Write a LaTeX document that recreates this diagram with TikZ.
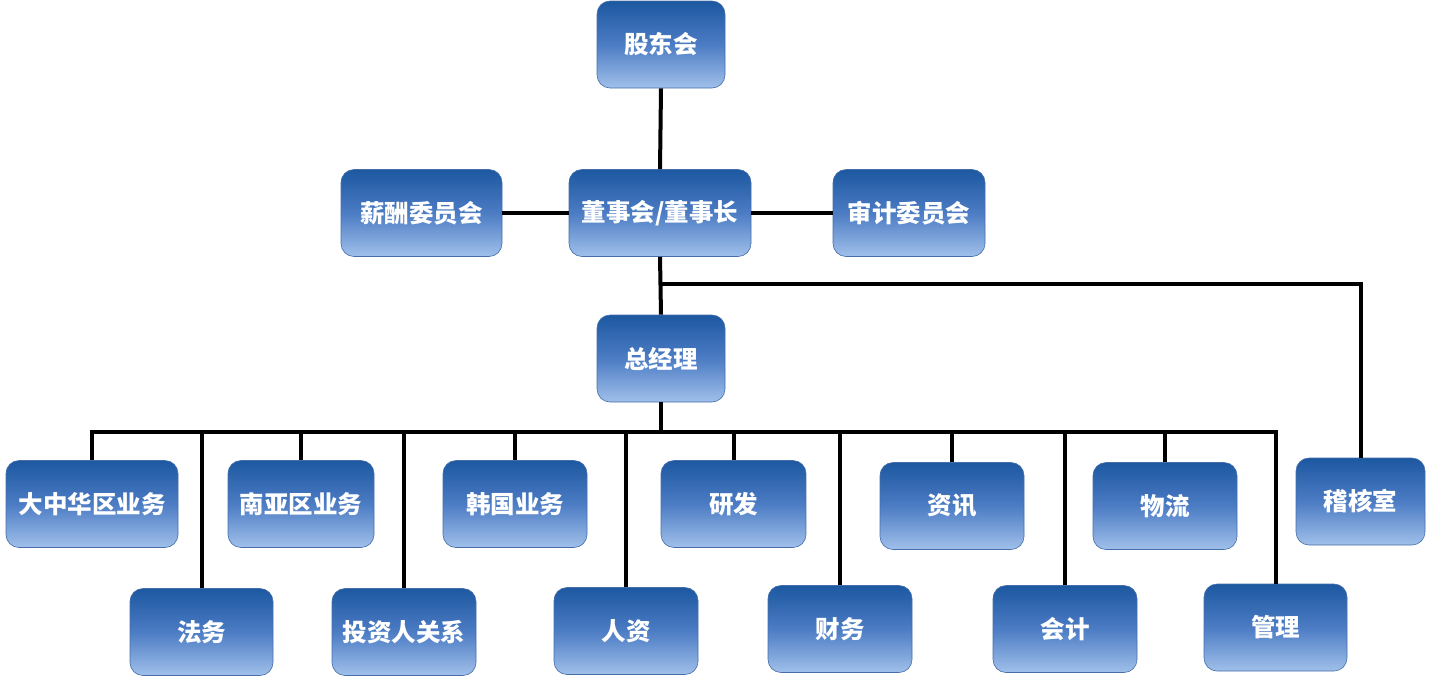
\documentclass[tikz,border=0pt]{standalone}
\usepackage{fontspec}
\newfontfamily\cjk{Noto Sans CJK SC}
\definecolor{boxtop}{RGB}{28,88,160}
\definecolor{boxmid}{RGB}{76,124,196}
\definecolor{boxbot}{RGB}{160,192,234}
\definecolor{boxedge}{RGB}{70,110,170}
\tikzset{
  org/.style={rounded corners=13pt, shade, top color=boxtop, bottom color=boxbot, middle color=boxmid,
    draw=boxedge, line width=0.6pt, minimum height=87pt, inner sep=0pt,
    font=\cjk\bfseries\fontsize{24.5}{28}\selectfont, text=white},
  link/.style={line width=4pt, black}
}
\begin{document}
\begin{tikzpicture}[x=1pt,y=-1pt]
\useasboundingbox (0,0) rectangle (1445,699);
% nodes
\node[org, minimum width=128pt] (gd) at (661,44.5) {股东会};
\node[org, minimum width=182pt] (dsh) at (660,213) {董事会/董事长};
\node[org, minimum width=161pt] (xc) at (421.5,213) {薪酬委员会};
\node[org, minimum width=152pt] (sj) at (909,213) {审计委员会};
\node[org, minimum width=128pt] (zjl) at (661,358.5) {总经理};
\node[org, minimum width=129pt] (jh) at (1360.5,501.5) {稽核室};
\node[org, minimum width=172pt] (dzh) at (92,504) {大中华区业务};
\node[org, minimum width=146pt] (ny) at (301,504) {南亚区业务};
\node[org, minimum width=144pt] (hg) at (515,504) {韩国业务};
\node[org, minimum width=145pt] (yf) at (733.5,504) {研发};
\node[org, minimum width=144pt] (zx) at (952,506) {资讯};
\node[org, minimum width=144pt] (wl) at (1165,506) {物流};
\node[org, minimum width=143pt] (fw) at (201.5,632) {法务};
\node[org, minimum width=144pt] (tz) at (404,632) {投资人关系};
\node[org, minimum width=144pt] (rz) at (626,631) {人资};
\node[org, minimum width=144pt] (cw) at (840,629) {财务};
\node[org, minimum width=144pt] (kj) at (1065,629) {会计};
\node[org, minimum width=143pt] (gl) at (1275.5,627.5) {管理};
% coordinates
\coordinate (bus) at (661,432);
\coordinate (j1) at (660,284);
\coordinate (j2) at (1360.5,284);
% connectors
\draw[link] (gd.south) -- (dsh.north);
\draw[link] (xc.east) -- (dsh.west);
\draw[link] (dsh.east) -- (sj.west);
\draw[link] (dsh.south) -- (zjl.north);
\draw[link] (j1) -- (j2) -- (jh.north);
\draw[link] (zjl.south) -- (bus);
\draw[link] (dzh.north) |- (bus);
\draw[link] (gl.north) |- (bus);
\foreach \n in {fw,ny,tz,hg,rz,yf,cw,zx,kj,wl}{
  \draw[link] (\n.north) -- (\n.north |- bus);
}
\end{tikzpicture}
\end{document}
